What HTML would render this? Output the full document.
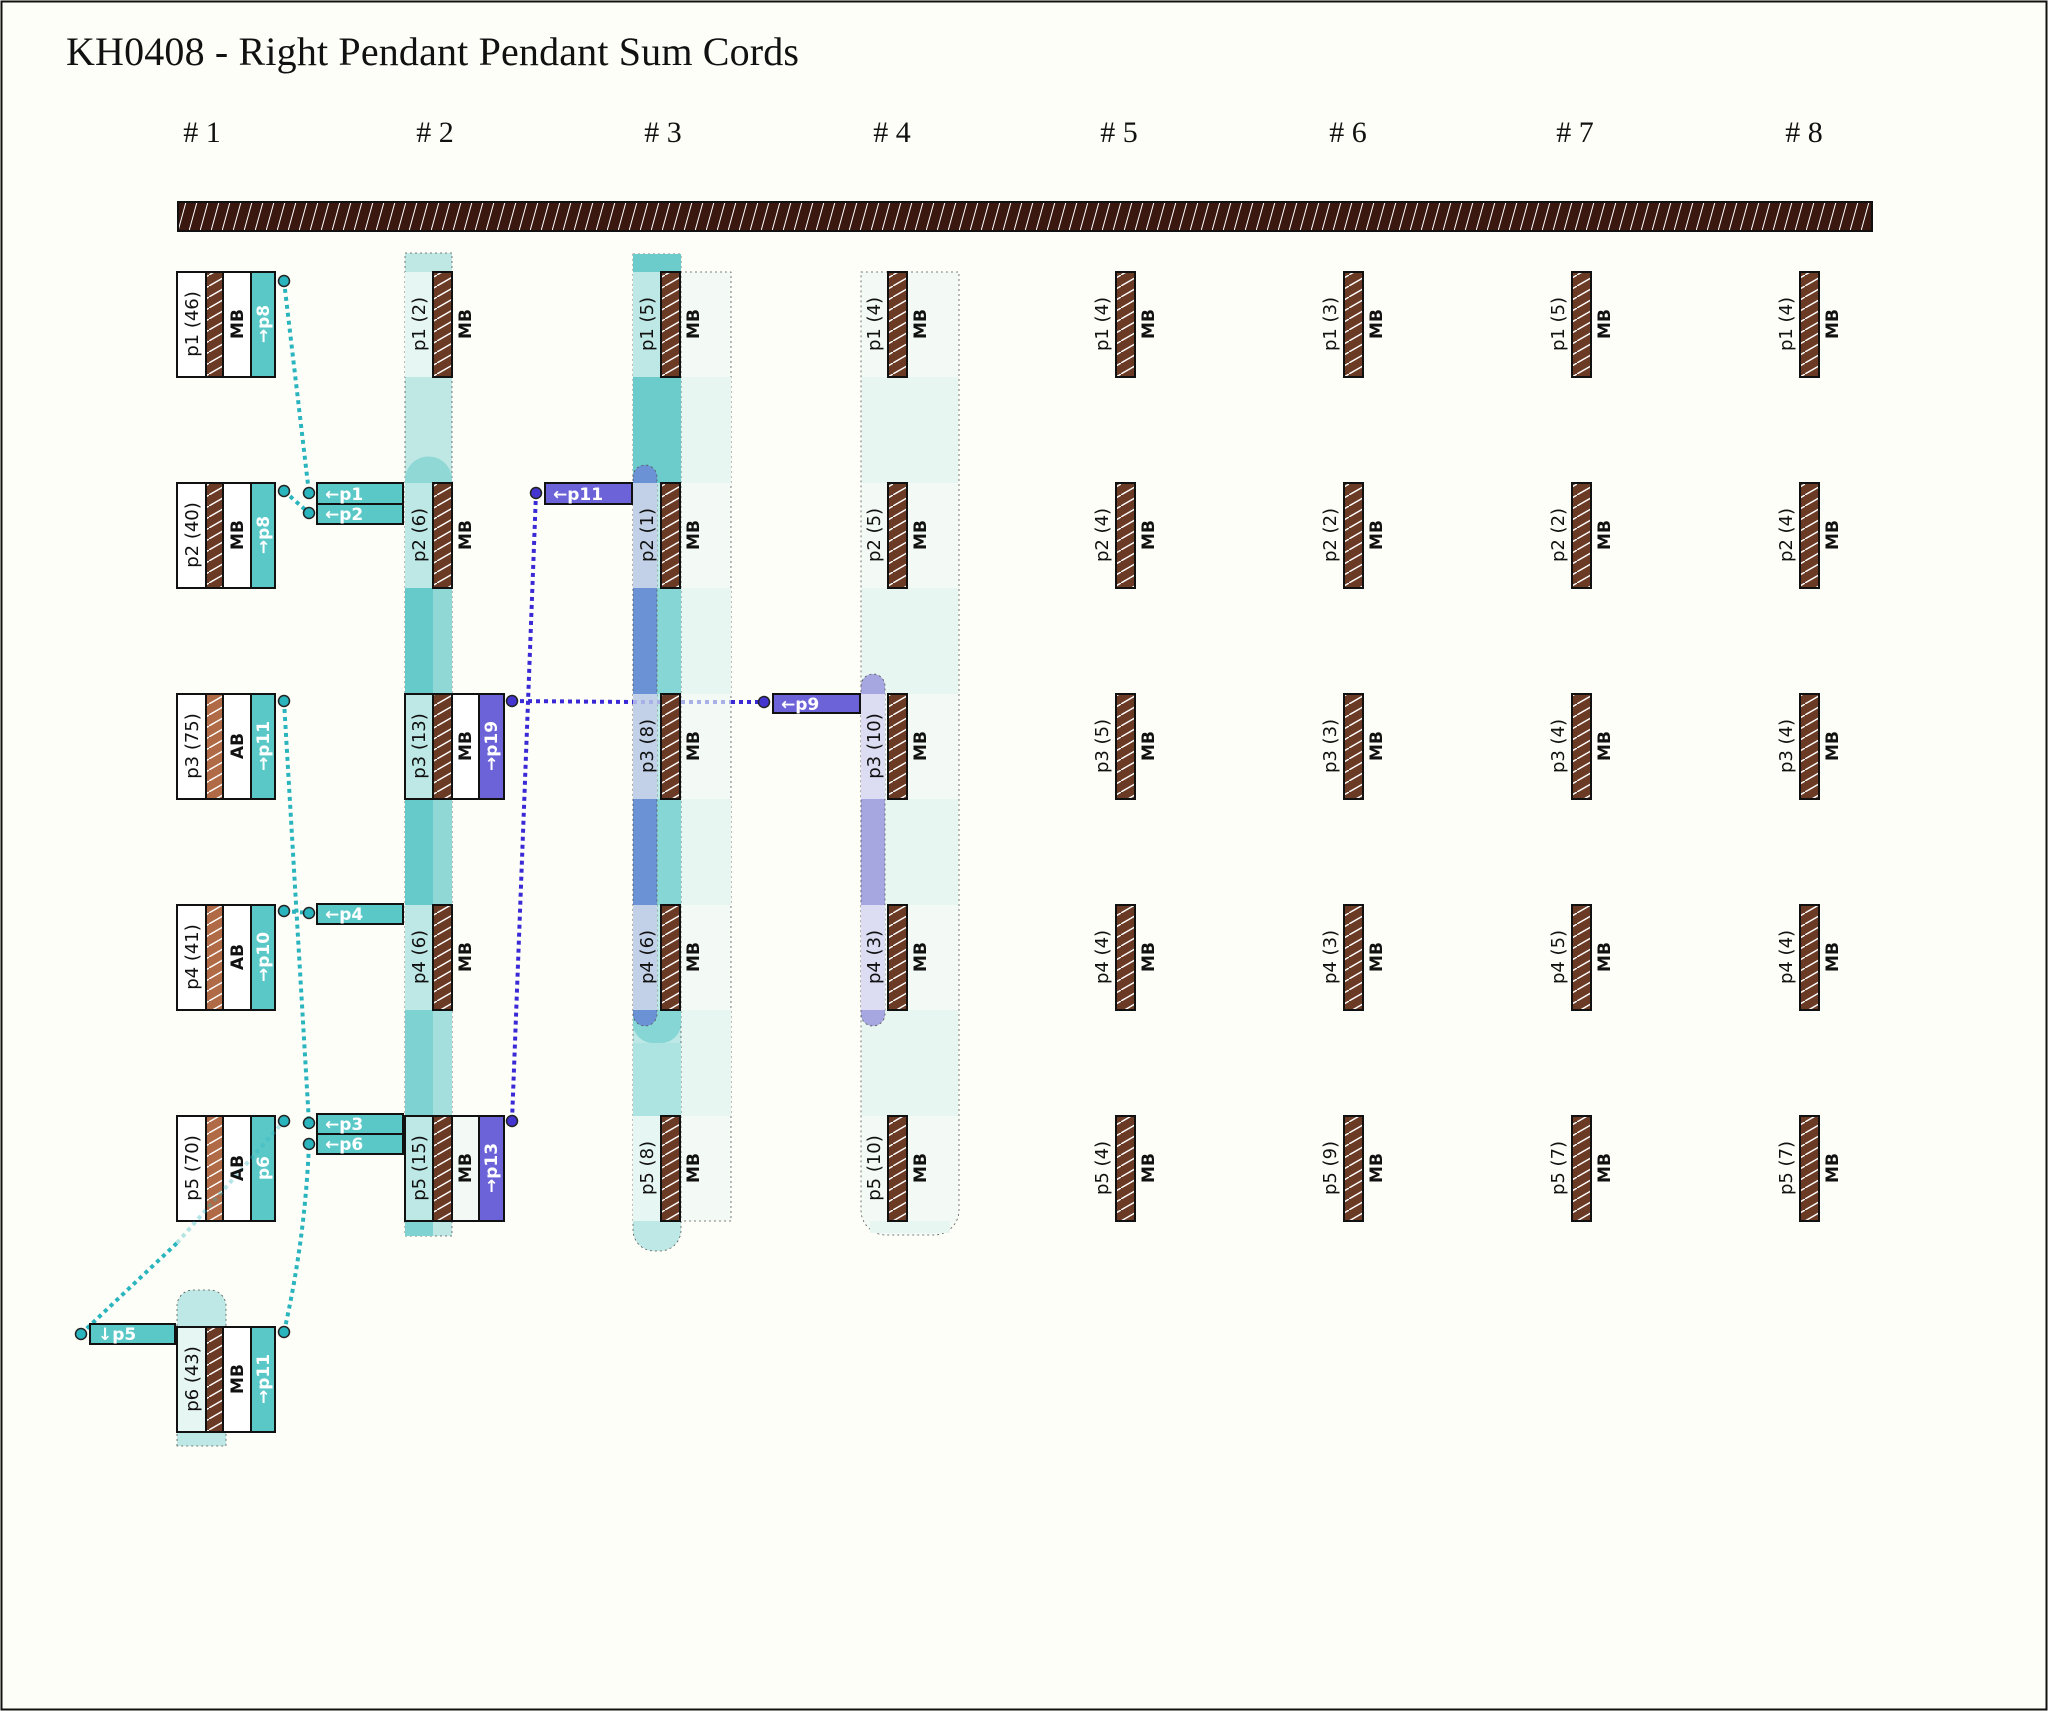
<!DOCTYPE html>
<html><head><meta charset="utf-8"><style>
html,body{margin:0;padding:0;background:#fefef8;}
svg{display:block;}
.l{font-family:"DejaVu Sans","Liberation Sans",sans-serif;font-size:18px;fill:#111;}
.mb{font-family:"DejaVu Sans","Liberation Sans",sans-serif;font-size:17px;font-weight:bold;fill:#111;}
.s{font-family:"DejaVu Sans","Liberation Sans",sans-serif;font-size:17px;font-weight:bold;fill:#fff;}
.h{font-family:"Liberation Serif",serif;font-size:30px;fill:#111;}
</style></head><body>
<svg width="2048" height="1711" viewBox="0 0 2048 1711" xmlns="http://www.w3.org/2000/svg">
<defs>
<pattern id="cord" patternUnits="userSpaceOnUse" width="19" height="11"><rect width="19" height="11" fill="#6b3a24"/><line x1="-1" y1="11.5" x2="20" y2="-0.5" stroke="#fff" stroke-width="1.5"/></pattern>
<pattern id="ab" patternUnits="userSpaceOnUse" width="19" height="11"><rect width="19" height="11" fill="#b06a45"/><line x1="-1" y1="11.5" x2="20" y2="-0.5" stroke="#fff" stroke-width="1.5"/></pattern>
<pattern id="bar" patternUnits="userSpaceOnUse" width="11" height="29" x="178" y="202"><rect width="11" height="29" fill="#3a1810"/><line x1="0" y1="29" x2="8" y2="0" stroke="#fff" stroke-width="1"/></pattern>
</defs>
<rect x="0" y="0" width="2048" height="1711" fill="#fefef8"/>
<rect x="1.5" y="1.5" width="2045" height="1708" fill="none" stroke="#111" stroke-width="2"/>
<text x="66" y="65" font-family="Liberation Serif, serif" font-size="40" fill="#111" textLength="733">KH0408 - Right Pendant Pendant Sum Cords</text>
<g class="h">
<text x="202" y="142" text-anchor="middle"># 1</text>
<text x="435" y="142" text-anchor="middle"># 2</text>
<text x="663" y="142" text-anchor="middle"># 3</text>
<text x="892" y="142" text-anchor="middle"># 4</text>
<text x="1119" y="142" text-anchor="middle"># 5</text>
<text x="1348" y="142" text-anchor="middle"># 6</text>
<text x="1575" y="142" text-anchor="middle"># 7</text>
<text x="1804" y="142" text-anchor="middle"># 8</text>
</g>
<rect x="178" y="202" width="1694" height="29" fill="url(#bar)" stroke="#111" stroke-width="2"/>

<g stroke="#555" stroke-width="0.8" stroke-dasharray="2,3">
<rect x="405" y="253" width="47" height="983" fill="#bfe8e5"/>
</g>
<rect x="405" y="588" width="28" height="106" fill="#66caca"/><rect x="433" y="588" width="19" height="106" fill="#8fd8d6"/>
<rect x="405" y="799" width="28" height="106" fill="#66caca"/><rect x="433" y="799" width="19" height="106" fill="#8fd8d6"/>
<rect x="405" y="1010" width="28" height="106" fill="#7fd2d2"/><rect x="433" y="1010" width="19" height="106" fill="#a4dfdd"/>
<rect x="405" y="1221" width="28" height="15" fill="#7fd2d2"/>
<path d="M405 483 V480 a23 23 0 0 1 47 0 V483Z" fill="#8fd8d6"/>
<rect x="405" y="272" width="28" height="105" fill="#e6f6f2"/>
<rect x="405" y="483" width="28" height="105" fill="#bde8e5"/>
<rect x="405" y="694" width="28" height="105" fill="#bde8e5"/>
<rect x="405" y="905" width="28" height="105" fill="#bde8e5"/>
<rect x="405" y="1116" width="28" height="105" fill="#bde8e5"/>

<rect x="680" y="272" width="51" height="949" fill="#f3faf6" stroke="#555" stroke-width="0.8" stroke-dasharray="2,3"/>
<rect x="681" y="377" width="50" height="106" fill="#e8f6f1"/><rect x="681" y="588" width="50" height="106" fill="#e8f6f1"/><rect x="681" y="799" width="50" height="106" fill="#e8f6f1"/><rect x="681" y="1010" width="50" height="106" fill="#e8f6f1"/>
<path d="M633 254 H681 V1230 a21 21 0 0 1 -21 21 H654 a21 21 0 0 1 -21 -21Z" fill="#bde8e5" stroke="#555" stroke-width="0.8" stroke-dasharray="2,3"/>
<rect x="633" y="254" width="48" height="18" fill="#6ccccc"/>
<rect x="633" y="377" width="48" height="106" fill="#6ccccc"/>
<rect x="633" y="588" width="48" height="106" fill="#85d6d4"/>
<rect x="633" y="799" width="48" height="106" fill="#85d6d4"/>
<path d="M633 1010 H681 V1025 a20 20 0 0 1 -20 18 H653 a20 20 0 0 1 -20 -18Z" fill="#85d6d4"/>
<rect x="633" y="1043" width="48" height="73" fill="#ade3e1"/>
<path d="M633 477 a12 12 0 0 1 12 -12 a12 12 0 0 1 12 12 V1014 a12 12 0 0 1 -12 12 a12 12 0 0 1 -12 -12Z" fill="#6a92d4" stroke="#555" stroke-width="0.8" stroke-dasharray="2,3"/>
<rect x="633" y="483" width="24" height="105" fill="#c2d1e8"/>
<rect x="633" y="694" width="24" height="105" fill="#c2d1e8"/>
<rect x="633" y="905" width="24" height="105" fill="#c2d1e8"/>
<rect x="633" y="272" width="27" height="105" fill="#bde8e5"/>
<rect x="633" y="1116" width="27" height="105" fill="#e6f6f2"/>

<path d="M861 272 H959 V1210 a25 25 0 0 1 -25 25 H886 a25 25 0 0 1 -25 -25Z" fill="#f3faf6" stroke="#555" stroke-width="0.8" stroke-dasharray="2,3"/>
<rect x="862" y="377" width="96" height="106" fill="#e8f6f1"/><rect x="862" y="588" width="96" height="106" fill="#e8f6f1"/><rect x="862" y="799" width="96" height="106" fill="#e8f6f1"/><rect x="862" y="1010" width="96" height="106" fill="#e8f6f1"/><rect x="870" y="1221" width="80" height="12" fill="#e8f6f1"/>
<path d="M861 686 a12 12 0 0 1 12 -12 a12 12 0 0 1 12 12 V1014 a12 12 0 0 1 -12 12 a12 12 0 0 1 -12 -12Z" fill="#a6a6e0" stroke="#555" stroke-width="0.8" stroke-dasharray="2,3"/>
<rect x="861" y="694" width="24" height="105" fill="#dcdcf2"/>
<rect x="861" y="905" width="24" height="105" fill="#dcdcf2"/>

<path d="M177 1446 V1306 a16 16 0 0 1 16 -16 H210 a16 16 0 0 1 16 16 V1446Z" fill="#bde8e5" stroke="#555" stroke-width="0.8" stroke-dasharray="2,3"/>

<g stroke="#2ab5be" stroke-width="4" stroke-dasharray="4,4" fill="none">
<line x1="284" y1="281" x2="309" y2="493"/>
<line x1="284" y1="491" x2="309" y2="513"/>
<line x1="284" y1="701" x2="309" y2="1123"/>
<line x1="284" y1="911" x2="309" y2="913"/>
<path d="M284 1332 Q305 1240 309 1144"/>
<line x1="81" y1="1334" x2="177" y2="1243"/>
</g>
<g stroke="#3a2ad6" stroke-width="4" stroke-dasharray="4,4" fill="none">
<line x1="536" y1="493" x2="512" y2="1121"/>
<line x1="512" y1="701" x2="633" y2="702"/>
<line x1="731" y1="702" x2="764" y2="702"/>
</g>
<line x1="633" y1="702" x2="731" y2="702" stroke="#a9b0e8" stroke-width="4" stroke-dasharray="4,4"/>

<g stroke="#111" stroke-width="2">
<rect x="177" y="272" width="98" height="105" fill="#fff"/>
<rect x="177" y="483" width="98" height="105" fill="#fff"/>
<rect x="177" y="694" width="98" height="105" fill="#fff"/>
<rect x="177" y="905" width="98" height="105" fill="#fff"/>
<rect x="177" y="1116" width="98" height="105" fill="#fff"/>
<rect x="177" y="1327" width="98" height="105" fill="#fff"/>
<rect x="177" y="1327" width="29" height="105" fill="#e6f6f2"/>
<rect x="206" y="272" width="17" height="105" fill="url(#cord)"/>
<rect x="206" y="483" width="17" height="105" fill="url(#cord)"/>
<rect x="206" y="694" width="17" height="105" fill="url(#ab)"/>
<rect x="206" y="905" width="17" height="105" fill="url(#ab)"/>
<rect x="206" y="1116" width="17" height="105" fill="url(#ab)"/>
<rect x="206" y="1327" width="17" height="105" fill="url(#cord)"/>
<rect x="223" y="272" width="28" height="105" fill="#fff"/>
<rect x="223" y="483" width="28" height="105" fill="#fff"/>
<rect x="223" y="694" width="28" height="105" fill="#fff"/>
<rect x="223" y="905" width="28" height="105" fill="#fff"/>
<rect x="223" y="1116" width="28" height="105" fill="#fff"/>
<rect x="223" y="1327" width="28" height="105" fill="#fff"/>
<rect x="251" y="272" width="24" height="105" fill="#5bc8c8"/>
<rect x="251" y="483" width="24" height="105" fill="#5bc8c8"/>
<rect x="251" y="694" width="24" height="105" fill="#5bc8c8"/>
<rect x="251" y="905" width="24" height="105" fill="#5bc8c8"/>
<rect x="251" y="1116" width="24" height="105" fill="#5bc8c8"/>
<rect x="251" y="1327" width="24" height="105" fill="#5bc8c8"/>
</g>
<line x1="177" y1="1243" x2="284" y2="1121" stroke="#2ab5be" stroke-opacity="0.35" stroke-width="4" stroke-dasharray="4,4"/>

<g stroke="#111" stroke-width="2">
<rect x="405" y="694" width="99" height="105" fill="none"/>
<rect x="452" y="694" width="27" height="105" fill="#fff"/>
<rect x="479" y="694" width="25" height="105" fill="#6c63d9"/>
<rect x="405" y="1116" width="99" height="105" fill="none"/>
<rect x="452" y="1116" width="27" height="105" fill="#f3faf6"/>
<rect x="479" y="1116" width="25" height="105" fill="#6c63d9"/>
</g>

<g stroke="#111" stroke-width="2">
<rect x="433" y="272" width="19" height="105" fill="url(#cord)"/><rect x="433" y="483" width="19" height="105" fill="url(#cord)"/><rect x="433" y="694" width="19" height="105" fill="url(#cord)"/><rect x="433" y="905" width="19" height="105" fill="url(#cord)"/><rect x="433" y="1116" width="19" height="105" fill="url(#cord)"/>
<rect x="661" y="272" width="19" height="105" fill="url(#cord)"/><rect x="661" y="483" width="19" height="105" fill="url(#cord)"/><rect x="661" y="694" width="19" height="105" fill="url(#cord)"/><rect x="661" y="905" width="19" height="105" fill="url(#cord)"/><rect x="661" y="1116" width="19" height="105" fill="url(#cord)"/>
<rect x="888" y="272" width="19" height="105" fill="url(#cord)"/><rect x="888" y="483" width="19" height="105" fill="url(#cord)"/><rect x="888" y="694" width="19" height="105" fill="url(#cord)"/><rect x="888" y="905" width="19" height="105" fill="url(#cord)"/><rect x="888" y="1116" width="19" height="105" fill="url(#cord)"/>
<rect x="1116" y="272" width="19" height="105" fill="url(#cord)"/><rect x="1116" y="483" width="19" height="105" fill="url(#cord)"/><rect x="1116" y="694" width="19" height="105" fill="url(#cord)"/><rect x="1116" y="905" width="19" height="105" fill="url(#cord)"/><rect x="1116" y="1116" width="19" height="105" fill="url(#cord)"/>
<rect x="1344" y="272" width="19" height="105" fill="url(#cord)"/><rect x="1344" y="483" width="19" height="105" fill="url(#cord)"/><rect x="1344" y="694" width="19" height="105" fill="url(#cord)"/><rect x="1344" y="905" width="19" height="105" fill="url(#cord)"/><rect x="1344" y="1116" width="19" height="105" fill="url(#cord)"/>
<rect x="1572" y="272" width="19" height="105" fill="url(#cord)"/><rect x="1572" y="483" width="19" height="105" fill="url(#cord)"/><rect x="1572" y="694" width="19" height="105" fill="url(#cord)"/><rect x="1572" y="905" width="19" height="105" fill="url(#cord)"/><rect x="1572" y="1116" width="19" height="105" fill="url(#cord)"/>
<rect x="1800" y="272" width="19" height="105" fill="url(#cord)"/><rect x="1800" y="483" width="19" height="105" fill="url(#cord)"/><rect x="1800" y="694" width="19" height="105" fill="url(#cord)"/><rect x="1800" y="905" width="19" height="105" fill="url(#cord)"/><rect x="1800" y="1116" width="19" height="105" fill="url(#cord)"/>
</g>

<g stroke="#111" stroke-width="2">
<rect x="317" y="483" width="86" height="21" fill="#5bc8c8"/>
<rect x="317" y="504" width="86" height="20" fill="#5bc8c8"/>
<rect x="317" y="904" width="86" height="20" fill="#5bc8c8"/>
<rect x="317" y="1114" width="86" height="20" fill="#5bc8c8"/>
<rect x="317" y="1134" width="86" height="20" fill="#5bc8c8"/>
<rect x="90" y="1324" width="85" height="20" fill="#5bc8c8"/>
<rect x="545" y="483" width="87" height="21" fill="#6c63d9"/>
<rect x="773" y="694" width="87" height="19" fill="#6c63d9"/>
</g>
<g class="s">
<text x="325" y="500">←p1</text>
<text x="325" y="520">←p2</text>
<text x="325" y="920">←p4</text>
<text x="325" y="1130">←p3</text>
<text x="325" y="1150">←p6</text>
<text x="98" y="1340">↓p5</text>
<text x="553" y="500">←p11</text>
<text x="781" y="710">←p9</text>
</g>

<g stroke="#222" stroke-width="1.5" fill="#2ab5be">
<circle cx="284" cy="281" r="5.5"/><circle cx="284" cy="491" r="5.5"/><circle cx="309" cy="493" r="5.5"/><circle cx="309" cy="513" r="5.5"/>
<circle cx="284" cy="701" r="5.5"/><circle cx="284" cy="911" r="5.5"/><circle cx="309" cy="913" r="5.5"/>
<circle cx="284" cy="1121" r="5.5"/><circle cx="309" cy="1123" r="5.5"/><circle cx="309" cy="1144" r="5.5"/>
<circle cx="284" cy="1332" r="5.5"/><circle cx="81" cy="1334" r="5.5"/>
</g>
<g stroke="#222" stroke-width="1.5" fill="#4434d0">
<circle cx="536" cy="493" r="5.5"/><circle cx="512" cy="701" r="5.5"/><circle cx="512" cy="1121" r="5.5"/><circle cx="764" cy="702" r="5.5"/>
</g>

<g class="l">
<text transform="translate(198,324) rotate(-90)" text-anchor="middle">p1 (46)</text>
<text transform="translate(198,535) rotate(-90)" text-anchor="middle">p2 (40)</text>
<text transform="translate(198,746) rotate(-90)" text-anchor="middle">p3 (75)</text>
<text transform="translate(198,957) rotate(-90)" text-anchor="middle">p4 (41)</text>
<text transform="translate(198,1168) rotate(-90)" text-anchor="middle">p5 (70)</text>
<text transform="translate(198,1379) rotate(-90)" text-anchor="middle">p6 (43)</text>
</g>
<g class="mb">
<text transform="translate(243,324) rotate(-90)" text-anchor="middle">MB</text>
<text transform="translate(243,535) rotate(-90)" text-anchor="middle">MB</text>
<text transform="translate(243,746) rotate(-90)" text-anchor="middle">AB</text>
<text transform="translate(243,957) rotate(-90)" text-anchor="middle">AB</text>
<text transform="translate(243,1168) rotate(-90)" text-anchor="middle">AB</text>
<text transform="translate(243,1379) rotate(-90)" text-anchor="middle">MB</text>
</g>
<g class="s">
<text transform="translate(269,324) rotate(-90)" text-anchor="middle">→p8</text>
<text transform="translate(269,535) rotate(-90)" text-anchor="middle">→p8</text>
<text transform="translate(269,746) rotate(-90)" text-anchor="middle">→p11</text>
<text transform="translate(269,957) rotate(-90)" text-anchor="middle">→p10</text>
<text transform="translate(269,1168) rotate(-90)" text-anchor="middle">p6</text>
<text transform="translate(269,1379) rotate(-90)" text-anchor="middle">→p11</text>
<text transform="translate(497,746) rotate(-90)" text-anchor="middle">→p19</text>
<text transform="translate(497,1168) rotate(-90)" text-anchor="middle">→p13</text>
</g>

<g class="l">
<text transform="translate(425,324) rotate(-90)" text-anchor="middle">p1 (2)</text>
<text transform="translate(425,535) rotate(-90)" text-anchor="middle">p2 (6)</text>
<text transform="translate(425,746) rotate(-90)" text-anchor="middle">p3 (13)</text>
<text transform="translate(425,957) rotate(-90)" text-anchor="middle">p4 (6)</text>
<text transform="translate(425,1168) rotate(-90)" text-anchor="middle">p5 (15)</text>
<text transform="translate(653,324) rotate(-90)" text-anchor="middle">p1 (5)</text>
<text transform="translate(653,535) rotate(-90)" text-anchor="middle">p2 (1)</text>
<text transform="translate(653,746) rotate(-90)" text-anchor="middle">p3 (8)</text>
<text transform="translate(653,957) rotate(-90)" text-anchor="middle">p4 (6)</text>
<text transform="translate(653,1168) rotate(-90)" text-anchor="middle">p5 (8)</text>
<text transform="translate(880,324) rotate(-90)" text-anchor="middle">p1 (4)</text>
<text transform="translate(880,535) rotate(-90)" text-anchor="middle">p2 (5)</text>
<text transform="translate(880,746) rotate(-90)" text-anchor="middle">p3 (10)</text>
<text transform="translate(880,957) rotate(-90)" text-anchor="middle">p4 (3)</text>
<text transform="translate(880,1168) rotate(-90)" text-anchor="middle">p5 (10)</text>
<text transform="translate(1108,324) rotate(-90)" text-anchor="middle">p1 (4)</text>
<text transform="translate(1108,535) rotate(-90)" text-anchor="middle">p2 (4)</text>
<text transform="translate(1108,746) rotate(-90)" text-anchor="middle">p3 (5)</text>
<text transform="translate(1108,957) rotate(-90)" text-anchor="middle">p4 (4)</text>
<text transform="translate(1108,1168) rotate(-90)" text-anchor="middle">p5 (4)</text>
<text transform="translate(1336,324) rotate(-90)" text-anchor="middle">p1 (3)</text>
<text transform="translate(1336,535) rotate(-90)" text-anchor="middle">p2 (2)</text>
<text transform="translate(1336,746) rotate(-90)" text-anchor="middle">p3 (3)</text>
<text transform="translate(1336,957) rotate(-90)" text-anchor="middle">p4 (3)</text>
<text transform="translate(1336,1168) rotate(-90)" text-anchor="middle">p5 (9)</text>
<text transform="translate(1564,324) rotate(-90)" text-anchor="middle">p1 (5)</text>
<text transform="translate(1564,535) rotate(-90)" text-anchor="middle">p2 (2)</text>
<text transform="translate(1564,746) rotate(-90)" text-anchor="middle">p3 (4)</text>
<text transform="translate(1564,957) rotate(-90)" text-anchor="middle">p4 (5)</text>
<text transform="translate(1564,1168) rotate(-90)" text-anchor="middle">p5 (7)</text>
<text transform="translate(1792,324) rotate(-90)" text-anchor="middle">p1 (4)</text>
<text transform="translate(1792,535) rotate(-90)" text-anchor="middle">p2 (4)</text>
<text transform="translate(1792,746) rotate(-90)" text-anchor="middle">p3 (4)</text>
<text transform="translate(1792,957) rotate(-90)" text-anchor="middle">p4 (4)</text>
<text transform="translate(1792,1168) rotate(-90)" text-anchor="middle">p5 (7)</text>
</g>
<g class="mb">
<text transform="translate(471,324) rotate(-90)" text-anchor="middle">MB</text><text transform="translate(471,535) rotate(-90)" text-anchor="middle">MB</text><text transform="translate(471,746) rotate(-90)" text-anchor="middle">MB</text><text transform="translate(471,957) rotate(-90)" text-anchor="middle">MB</text><text transform="translate(471,1168) rotate(-90)" text-anchor="middle">MB</text>
<text transform="translate(699,324) rotate(-90)" text-anchor="middle">MB</text><text transform="translate(699,535) rotate(-90)" text-anchor="middle">MB</text><text transform="translate(699,746) rotate(-90)" text-anchor="middle">MB</text><text transform="translate(699,957) rotate(-90)" text-anchor="middle">MB</text><text transform="translate(699,1168) rotate(-90)" text-anchor="middle">MB</text>
<text transform="translate(926,324) rotate(-90)" text-anchor="middle">MB</text><text transform="translate(926,535) rotate(-90)" text-anchor="middle">MB</text><text transform="translate(926,746) rotate(-90)" text-anchor="middle">MB</text><text transform="translate(926,957) rotate(-90)" text-anchor="middle">MB</text><text transform="translate(926,1168) rotate(-90)" text-anchor="middle">MB</text>
<text transform="translate(1154,324) rotate(-90)" text-anchor="middle">MB</text><text transform="translate(1154,535) rotate(-90)" text-anchor="middle">MB</text><text transform="translate(1154,746) rotate(-90)" text-anchor="middle">MB</text><text transform="translate(1154,957) rotate(-90)" text-anchor="middle">MB</text><text transform="translate(1154,1168) rotate(-90)" text-anchor="middle">MB</text>
<text transform="translate(1382,324) rotate(-90)" text-anchor="middle">MB</text><text transform="translate(1382,535) rotate(-90)" text-anchor="middle">MB</text><text transform="translate(1382,746) rotate(-90)" text-anchor="middle">MB</text><text transform="translate(1382,957) rotate(-90)" text-anchor="middle">MB</text><text transform="translate(1382,1168) rotate(-90)" text-anchor="middle">MB</text>
<text transform="translate(1610,324) rotate(-90)" text-anchor="middle">MB</text><text transform="translate(1610,535) rotate(-90)" text-anchor="middle">MB</text><text transform="translate(1610,746) rotate(-90)" text-anchor="middle">MB</text><text transform="translate(1610,957) rotate(-90)" text-anchor="middle">MB</text><text transform="translate(1610,1168) rotate(-90)" text-anchor="middle">MB</text>
<text transform="translate(1838,324) rotate(-90)" text-anchor="middle">MB</text><text transform="translate(1838,535) rotate(-90)" text-anchor="middle">MB</text><text transform="translate(1838,746) rotate(-90)" text-anchor="middle">MB</text><text transform="translate(1838,957) rotate(-90)" text-anchor="middle">MB</text><text transform="translate(1838,1168) rotate(-90)" text-anchor="middle">MB</text>
</g>
</svg>
</body></html>
